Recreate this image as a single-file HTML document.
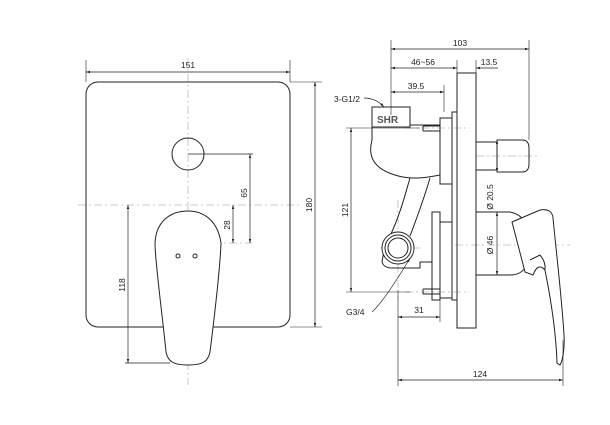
<!DOCTYPE html>
<html><head><meta charset="utf-8"><style>
html,body{margin:0;padding:0;background:#fff;}
svg{display:block;}
text{font-family:"Liberation Sans",sans-serif;font-size:8.5px;fill:#222;}
</style></head><body>
<svg width="610" height="425" viewBox="0 0 610 425" xmlns="http://www.w3.org/2000/svg">
<defs>
<marker id="a" viewBox="0 0 10 10" refX="10" refY="5" markerWidth="6" markerHeight="6" orient="auto-start-reverse"><path d="M0,2 L10,5 L0,8 z" fill="#222"/></marker>
</defs>
<g stroke="#bbb" stroke-width="0.8" stroke-dasharray="8,3,2,3" fill="none">
<line x1="188" y1="58" x2="188" y2="385"/>
<line x1="78" y1="205" x2="302" y2="205"/>
<line x1="165" y1="243" x2="252" y2="243"/>
<line x1="405" y1="128" x2="470" y2="128"/>
<line x1="405" y1="292" x2="470" y2="292"/>
<line x1="476" y1="156" x2="540" y2="156"/>
<line x1="455" y1="245" x2="570" y2="245"/>
<line x1="398" y1="200" x2="398" y2="300"/>
<line x1="380" y1="248" x2="420" y2="248"/>
</g>
<g stroke="#222" stroke-width="1" fill="none">
<!-- front view -->
<rect x="86" y="82" width="204" height="245" rx="12"/>
<circle cx="188" cy="154" r="16"/>
<path d="M155,245 C155,222 170,211 188,211 C205,211 218,222 221,243 C220,270 214,320 210,352 C208,362 202,365 188,365 C174,365 168,362 166,352 C163,320 156,270 155,245 Z" fill="#fff"/>
<circle cx="178" cy="256" r="2"/><circle cx="195" cy="256" r="2"/>
<!-- dims front -->
<line x1="86" y1="60" x2="86" y2="82" stroke-width="0.6"/><line x1="290" y1="60" x2="290" y2="82" stroke-width="0.6"/>
<line x1="86" y1="72" x2="290" y2="72" stroke-width="0.7" marker-start="url(#a)" marker-end="url(#a)"/>
<line x1="290" y1="82" x2="322" y2="82" stroke-width="0.6"/><line x1="290" y1="327" x2="322" y2="327" stroke-width="0.6"/>
<line x1="315" y1="82" x2="315" y2="327" stroke-width="0.7" marker-start="url(#a)" marker-end="url(#a)"/>
<line x1="188" y1="154" x2="253" y2="154" stroke-width="0.7"/>
<line x1="250" y1="154" x2="250" y2="243" stroke-width="0.7" marker-start="url(#a)" marker-end="url(#a)"/>
<line x1="233" y1="205" x2="233" y2="243" stroke-width="0.7" marker-start="url(#a)" marker-end="url(#a)"/>
<line x1="125" y1="363" x2="170" y2="363" stroke-width="0.7"/>
<line x1="128" y1="205" x2="128" y2="363" stroke-width="0.7" marker-start="url(#a)" marker-end="url(#a)"/>
<!-- side view -->
<rect x="457" y="73" width="19" height="255"/>
<rect x="452" y="112" width="5" height="188"/>
<rect x="476" y="142" width="21" height="28"/>
<path d="M497,140 L522,140 Q529,140 529,148 L529,164 Q529,172 522,172 L497,172 Z"/>
<path d="M476,212 L510,212 Q520,214 525,222 L525,268 Q520,275 510,275 L476,275"/>
<path d="M512,222 L540,210 Q552,208 553,218 C556,250 562,300 564,335 C565,350 562,362 560,365 L557,363 C556,330 550,295 545,270 Q538,262 533,275 L525,272 Z" fill="#fff"/>
<path d="M530,260 L540,255 Q546,262 545,270"/>
<rect x="372" y="107" width="38" height="20" fill="#fff"/>
<path d="M372,127 L372,140 C368,155 372,168 395,175 C410,180 425,178 440,175 L440,125 L410,125"/>
<rect x="440" y="118" width="12" height="66"/>
<line x1="423" y1="126" x2="440" y2="126"/><line x1="423" y1="131" x2="440" y2="131"/><line x1="423" y1="126" x2="423" y2="131"/>
<rect x="432" y="212" width="8" height="88"/>
<rect x="440" y="222" width="12" height="76"/>
<line x1="423" y1="289" x2="440" y2="289"/><line x1="423" y1="294" x2="440" y2="294"/><line x1="423" y1="289" x2="423" y2="294"/>
<path d="M410,178 C405,195 400,215 390,236"/>
<path d="M430,178 C425,195 418,215 410,236"/>
<path d="M384,250 L382,262 Q384,268 392,268 L420,268 L420,262 L432,262"/>
<circle cx="398" cy="248" r="16" fill="#fff"/>
<circle cx="398" cy="248" r="13"/>
<circle cx="398" cy="248" r="10"/>
<!-- side dims -->
<line x1="391" y1="40" x2="391" y2="115" stroke-width="0.6"/>
<line x1="529" y1="40" x2="529" y2="140" stroke-width="0.6"/>
<line x1="391" y1="49" x2="529" y2="49" stroke-width="0.7" marker-start="url(#a)" marker-end="url(#a)"/>
<line x1="457" y1="60" x2="457" y2="73" stroke-width="0.6"/><line x1="476" y1="60" x2="476" y2="73" stroke-width="0.6"/>
<line x1="391" y1="68" x2="457" y2="68" stroke-width="0.7" marker-start="url(#a)" marker-end="url(#a)"/>
<line x1="476" y1="68" x2="498" y2="68" stroke-width="0.7" marker-start="url(#a)"/>
<line x1="444" y1="85" x2="444" y2="112" stroke-width="0.6"/>
<line x1="391" y1="92" x2="444" y2="92" stroke-width="0.7" marker-start="url(#a)" marker-end="url(#a)"/>
<path d="M364,98 Q376,98 384,107" stroke-width="0.7" marker-end="url(#a)"/>
<line x1="346" y1="128" x2="420" y2="128" stroke-width="0.6"/><line x1="346" y1="292" x2="410" y2="292" stroke-width="0.6"/>
<line x1="351" y1="128" x2="351" y2="292" stroke-width="0.7" marker-start="url(#a)" marker-end="url(#a)"/>
<line x1="497" y1="140" x2="497" y2="172" stroke-width="0.7" marker-start="url(#a)" marker-end="url(#a)"/>
<line x1="497" y1="212" x2="497" y2="275" stroke-width="0.7" marker-start="url(#a)" marker-end="url(#a)"/>
<line x1="398" y1="290" x2="398" y2="386" stroke-width="0.6"/>
<line x1="563" y1="340" x2="563" y2="386" stroke-width="0.6"/>
<line x1="440" y1="300" x2="440" y2="322" stroke-width="0.6"/>
<line x1="398" y1="317" x2="440" y2="317" stroke-width="0.7" marker-start="url(#a)" marker-end="url(#a)"/>
<line x1="398" y1="380" x2="563" y2="380" stroke-width="0.7" marker-start="url(#a)" marker-end="url(#a)"/>
<path d="M372,312 Q385,300 410,258" stroke-width="0.7" marker-end="url(#a)"/>
</g>
<text x="188" y="68" text-anchor="middle">151</text>
<text transform="translate(312,205) rotate(-90)" text-anchor="middle">180</text>
<text transform="translate(247,193) rotate(-90)" text-anchor="middle">65</text>
<text transform="translate(230,225) rotate(-90)" text-anchor="middle">28</text>
<text transform="translate(125,285) rotate(-90)" text-anchor="middle">118</text>
<text x="460" y="46" text-anchor="middle">103</text>
<text x="423" y="65" text-anchor="middle">46~56</text>
<text x="489" y="65" text-anchor="middle">13.5</text>
<text x="416" y="89" text-anchor="middle">39.5</text>
<text x="334" y="102">3-G1/2</text>
<text x="377" y="123" style="font-size:10px;font-weight:bold;fill:#555">SHR</text>
<text transform="translate(348,210) rotate(-90)" text-anchor="middle">121</text>
<text transform="translate(493,197) rotate(-90)" text-anchor="middle">Ø 20.5</text>
<text transform="translate(493,245) rotate(-90)" text-anchor="middle">Ø 46</text>
<text x="346" y="315">G3/4</text>
<text x="419" y="313" text-anchor="middle">31</text>
<text x="480" y="377" text-anchor="middle">124</text>
</svg>
</body></html>
